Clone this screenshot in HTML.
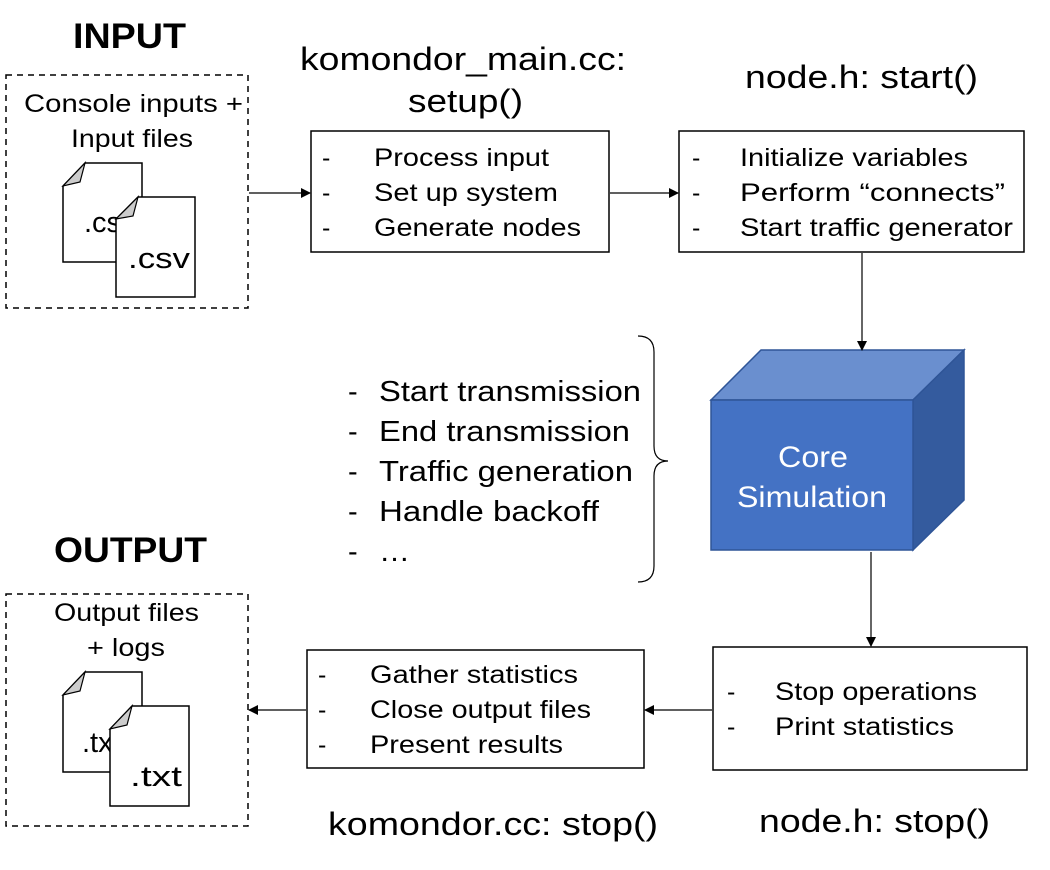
<!DOCTYPE html>
<html><head><meta charset="utf-8"><style>
html,body{margin:0;padding:0;background:#fff;}
svg{display:block;font-family:"Liberation Sans",Arial,sans-serif;}
</style></head><body>
<svg width="1050" height="870" viewBox="0 0 1050 870" xmlns="http://www.w3.org/2000/svg">
<defs><marker id="a" markerWidth="10" markerHeight="10" refX="9" refY="5" orient="auto" markerUnits="userSpaceOnUse"><path d="M0,0 L10,5 L0,10 z" fill="#000"/></marker></defs>
<g fill="#000" lengthAdjust="spacingAndGlyphs">
<text x="73" y="48" font-size="35" font-weight="bold" textLength="113" lengthAdjust="spacingAndGlyphs">INPUT</text>
<text x="54" y="562" font-size="35" font-weight="bold" textLength="153" lengthAdjust="spacingAndGlyphs">OUTPUT</text>
<text x="300" y="70" font-size="32" textLength="326" lengthAdjust="spacingAndGlyphs">komondor_main.cc:</text>
<text x="408" y="112" font-size="32" textLength="115" lengthAdjust="spacingAndGlyphs">setup()</text>
<text x="745" y="88" font-size="32" textLength="233" lengthAdjust="spacingAndGlyphs">node.h: start()</text>
<text x="328" y="835" font-size="32" textLength="330" lengthAdjust="spacingAndGlyphs">komondor.cc: stop()</text>
<text x="759" y="832" font-size="32" textLength="231" lengthAdjust="spacingAndGlyphs">node.h: stop()</text>
</g>
<!-- input dashed -->
<rect x="6" y="75" width="242" height="233" fill="none" stroke="#000" stroke-width="1.5" stroke-dasharray="6,5"/>
<text x="24" y="112" font-size="25" textLength="219" lengthAdjust="spacingAndGlyphs">Console inputs +</text>
<text x="71" y="147" font-size="25" textLength="122" lengthAdjust="spacingAndGlyphs">Input files</text>
<path d="M85,163 L142,163 L142,262 L63,262 L63,186 Z" fill="#fff" stroke="#000" stroke-width="1.5"/>
<path d="M63,186 L85,163 L80,182 Z" fill="#ccc" stroke="#000" stroke-width="1.2"/>
<text x="84" y="232" font-size="29">.cs</text>
<path d="M138,197 L195,197 L195,297 L116,297 L116,219 Z" fill="#fff" stroke="#000" stroke-width="1.5"/>
<path d="M116,219 L138,197 L133,216 Z" fill="#ccc" stroke="#000" stroke-width="1.2"/>
<text x="128" y="268" font-size="29" textLength="62" lengthAdjust="spacingAndGlyphs">.csv</text>
<!-- output dashed -->
<rect x="6" y="594" width="242" height="232" fill="none" stroke="#000" stroke-width="1.5" stroke-dasharray="6,5"/>
<text x="54" y="621" font-size="25" textLength="145" lengthAdjust="spacingAndGlyphs">Output files</text>
<text x="87" y="656" font-size="25" textLength="78" lengthAdjust="spacingAndGlyphs">+ logs</text>
<path d="M85,672 L142,672 L142,772 L63,772 L63,695 Z" fill="#fff" stroke="#000" stroke-width="1.5"/>
<path d="M63,695 L85,672 L80,691 Z" fill="#ccc" stroke="#000" stroke-width="1.2"/>
<text x="82" y="752" font-size="29">.tx</text>
<path d="M132,706 L189,706 L189,806 L110,806 L110,729 Z" fill="#fff" stroke="#000" stroke-width="1.5"/>
<path d="M110,729 L132,706 L127,725 Z" fill="#ccc" stroke="#000" stroke-width="1.2"/>
<text x="130" y="786" font-size="29" textLength="52" lengthAdjust="spacingAndGlyphs">.txt</text>
<!-- boxes -->
<rect x="311" y="131" width="298" height="121" fill="#fff" stroke="#000" stroke-width="1.5"/>
<g font-size="25"><text x="322" y="166">-</text><text x="374" y="166" textLength="175" lengthAdjust="spacingAndGlyphs">Process input</text>
<text x="322" y="201">-</text><text x="374" y="201" textLength="184" lengthAdjust="spacingAndGlyphs">Set up system</text>
<text x="322" y="236">-</text><text x="374" y="236" textLength="207" lengthAdjust="spacingAndGlyphs">Generate nodes</text></g>
<rect x="679" y="131" width="345" height="121" fill="#fff" stroke="#000" stroke-width="1.5"/>
<g font-size="25"><text x="692" y="166">-</text><text x="740" y="166" textLength="228" lengthAdjust="spacingAndGlyphs">Initialize variables</text>
<text x="692" y="201">-</text><text x="740" y="201" textLength="265" lengthAdjust="spacingAndGlyphs">Perform “connects”</text>
<text x="692" y="236">-</text><text x="740" y="236" textLength="273" lengthAdjust="spacingAndGlyphs">Start traffic generator</text></g>
<rect x="307" y="650" width="337" height="118" fill="#fff" stroke="#000" stroke-width="1.5"/>
<g font-size="25"><text x="318" y="683">-</text><text x="370" y="683" textLength="208" lengthAdjust="spacingAndGlyphs">Gather statistics</text>
<text x="318" y="718">-</text><text x="370" y="718" textLength="221" lengthAdjust="spacingAndGlyphs">Close output files</text>
<text x="318" y="753">-</text><text x="370" y="753" textLength="193" lengthAdjust="spacingAndGlyphs">Present results</text></g>
<rect x="713" y="647" width="314" height="123" fill="#fff" stroke="#000" stroke-width="1.5"/>
<g font-size="25"><text x="727" y="700">-</text><text x="775" y="700" textLength="202" lengthAdjust="spacingAndGlyphs">Stop operations</text>
<text x="727" y="735">-</text><text x="775" y="735" textLength="179" lengthAdjust="spacingAndGlyphs">Print statistics</text></g>
<!-- list -->
<g font-size="29"><text x="348" y="401">-</text><text x="379" y="401" textLength="262" lengthAdjust="spacingAndGlyphs">Start transmission</text>
<text x="348" y="441">-</text><text x="379" y="441" textLength="251" lengthAdjust="spacingAndGlyphs">End transmission</text>
<text x="348" y="481">-</text><text x="379" y="481" textLength="254" lengthAdjust="spacingAndGlyphs">Traffic generation</text>
<text x="348" y="521">-</text><text x="379" y="521" textLength="220" lengthAdjust="spacingAndGlyphs">Handle backoff</text>
<text x="348" y="561">-</text><text x="379" y="561" textLength="31" lengthAdjust="spacingAndGlyphs">…</text></g>
<path d="M638,336 Q654,336 654,352 L654,446 Q654,461 668,461 Q654,461 654,476 L654,566 Q654,582 638,582" fill="none" stroke="#000" stroke-width="1.2"/>
<!-- cube -->
<polygon points="711,400 761,350 964,350 913,400" fill="#6a8fcf" stroke="#2f5597" stroke-width="1.5"/>
<polygon points="913,400 964,350 964,500 913,550" fill="#345b9e" stroke="#2f5597" stroke-width="1.5"/>
<rect x="711" y="400" width="202" height="150" fill="#4472c4" stroke="#2f5597" stroke-width="1.5"/>
<text x="778" y="467" font-size="30" fill="#fff" textLength="70" lengthAdjust="spacingAndGlyphs">Core</text>
<text x="737" y="507" font-size="30" fill="#fff" textLength="150" lengthAdjust="spacingAndGlyphs">Simulation</text>
<!-- arrows -->
<g stroke="#000" stroke-width="1.2" fill="none">
<line x1="249" y1="193" x2="310" y2="193" marker-end="url(#a)"/>
<line x1="610" y1="193" x2="678" y2="193" marker-end="url(#a)"/>
<line x1="862" y1="253" x2="862" y2="350" marker-end="url(#a)"/>
<line x1="871" y1="552" x2="871" y2="646" marker-end="url(#a)"/>
<line x1="712" y1="710" x2="645" y2="710" marker-end="url(#a)"/>
<line x1="306" y1="710" x2="249" y2="710" marker-end="url(#a)"/>
</g>
</svg>
</body></html>
